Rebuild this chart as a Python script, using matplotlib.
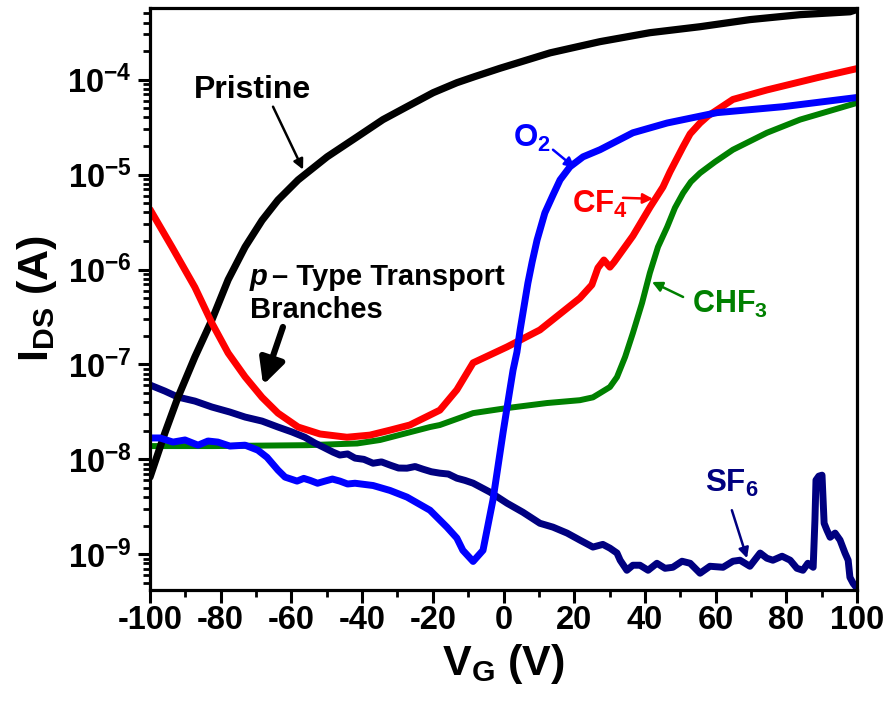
import matplotlib
matplotlib.use('Agg')
import matplotlib.pyplot as plt
from matplotlib.ticker import FixedLocator, FixedFormatter, LogLocator, NullFormatter, MultipleLocator

# ---------------- data ----------------
pristine_v = [-100, -95.8, -92.1, -87.3, -82.5, -77.9, -73.1, -68.3, -63.8, -58.1, -49.9, -41.4,
              -34.1, -27.3, -19.9, -13.2, -8.1, -1.0, 13.2, 27.3, 41.4, 55.6, 69.7, 83.9, 98.0, 100]
pristine_i = [6.5e-9, 1.89e-8, 4.5e-8, 1.2e-7, 2.94e-7, 7.8e-7, 1.73e-6, 3.3e-6, 5.4e-6, 8.8e-6,
              1.54e-5, 2.5e-5, 3.8e-5, 5.2e-5, 7.3e-5, 9.3e-5, 1.08e-4, 1.32e-4, 1.92e-4, 2.52e-4,
              3.13e-4, 3.62e-4, 4.3e-4, 4.85e-4, 5.2e-4, 5.5e-4]

cf4_v = [-100, -93.8, -87.3, -82.5, -77.9, -73.1, -68.3, -63.8, -58.1, -51.9, -44.3, -37.8, -32.1,
         -26.5, -18.0, -13.2, -8.6, 1.0, 10.3, 21.6, 25.0, 26.7, 28.4, 30.1, 31.3, 36.6, 41.5, 45.1,
         47.1, 50.8, 52.8, 55.6, 57.9, 60.4, 64.9, 74.5, 88.7, 100]
cf4_i = [4.3e-6, 1.73e-6, 6.5e-7, 2.73e-7, 1.32e-7, 7.4e-8, 4.5e-8, 3.07e-8, 2.19e-8, 1.85e-8,
         1.71e-8, 1.80e-8, 2.03e-8, 2.30e-8, 3.3e-8, 5.4e-8, 1.04e-7, 1.53e-7, 2.31e-7, 5.0e-7,
         6.9e-7, 1.04e-6, 1.26e-6, 1.06e-6, 1.20e-6, 2.26e-6, 4.57e-6, 7.4e-6, 1.07e-5, 1.97e-5,
         2.69e-5, 3.5e-5, 4.17e-5, 4.8e-5, 6.2e-5, 7.8e-5, 1.05e-4, 1.31e-4]

o2_v = [-100, -97.2, -93.5, -90.1, -86.4, -83.6, -80.8, -77.4, -73.1, -69.5, -66.9, -63.8, -61.8,
        -58.4, -56.5, -54.7, -52.6, -50.5, -48.4, -46.3, -44.1, -42.0, -36.9, -32.1, -27.3, -20.8,
        -16.0, -13.2, -11.5, -8.6, -5.8, -3.0, -0.1, 1.8, 2.7, 3.8, 4.7, 6.9, 8.1, 9.5, 11.7, 14.0,
        16.0, 18.8, 22.5, 27.3, 36.6, 46.3, 60.4, 79.1, 100]
o2_i = [1.68e-8, 1.68e-8, 1.52e-8, 1.60e-8, 1.41e-8, 1.56e-8, 1.52e-8, 1.38e-8, 1.41e-8, 1.25e-8,
        1.05e-8, 7.7e-9, 6.5e-9, 5.9e-9, 6.3e-9, 6.0e-9, 5.6e-9, 5.9e-9, 6.2e-9, 5.9e-9, 5.5e-9,
        5.6e-9, 5.3e-9, 4.7e-9, 4.0e-9, 2.91e-9, 1.93e-9, 1.48e-9, 1.10e-9, 8.4e-10, 1.10e-9,
        3.7e-9, 1.94e-8, 5.4e-8, 8.7e-8, 1.35e-7, 2.31e-7, 7.2e-7, 1.20e-6, 2.05e-6, 3.95e-6,
        6.1e-6, 8.8e-6, 1.21e-5, 1.54e-5, 1.83e-5, 2.76e-5, 3.5e-5, 4.5e-5, 5.2e-5, 6.5e-5]

chf3_v = [-100, -82.2, -55.6, -41.4, -34.9, -20.8, -18.0, -8.6, 1.0, 12.3, 21.6, 25.3, 27.3, 30.1,
          32.1, 34.4, 36.6, 39.2, 41.4, 43.7, 46.3, 48.5, 50.8, 53.0, 55.6, 59.8, 64.9, 74.5, 83.9,
          100]
chf3_i = [1.38e-8, 1.38e-8, 1.41e-8, 1.47e-8, 1.60e-8, 2.19e-8, 2.30e-8, 3.07e-8, 3.47e-8, 3.92e-8,
          4.2e-8, 4.5e-8, 4.99e-8, 5.78e-8, 7.36e-8, 1.20e-7, 2.14e-7, 4.45e-7, 9.2e-7, 1.73e-6,
          2.81e-6, 4.47e-6, 6.4e-6, 8.4e-6, 1.04e-5, 1.36e-5, 1.83e-5, 2.76e-5, 3.8e-5, 5.7e-5]

sf6_v = [-100, -95.8, -92.1, -87.3, -82.5, -77.4, -73.1, -68.3, -63.8, -59.8, -56.2, -53.3, -51.1,
         -48.2, -46.3, -44.1, -42.0, -39.5, -36.9, -34.5, -32.1, -29.7, -27.3, -25.0, -22.8, -20.4,
         -18.0, -15.6, -13.2, -10.9, -8.6, -3.8, 1.0, 5.5, 10.3, 14.0, 18.0, 21.6, 25.3, 28.1, 30.1,
         32.1, 33.0, 34.9, 36.6, 38.6, 40.9, 43.4, 45.7, 47.9, 50.5, 52.8, 55.6, 58.4, 62.1, 64.9,
         66.9, 69.7, 72.6, 74.5, 76.2, 78.8, 81.1, 83.0, 84.7, 86.1, 87.6, 88.1, 88.4, 89.2, 90.1,
         90.7, 91.5, 92.4, 93.8, 95.2, 96.6, 97.5, 98.0, 98.9, 100]
sf6_i = [6.07e-8, 5.24e-8, 4.53e-8, 4.11e-8, 3.56e-8, 3.15e-8, 2.79e-8, 2.53e-8, 2.19e-8, 1.94e-8,
         1.71e-8, 1.48e-8, 1.35e-8, 1.19e-8, 1.11e-8, 1.14e-8, 1.03e-8, 1.00e-8, 9.1e-9, 9.4e-9,
         8.7e-9, 8.1e-9, 8.07e-9, 8.4e-9, 7.88e-9, 7.4e-9, 7.15e-9, 7.0e-9, 6.33e-9, 6.0e-9,
         5.61e-9, 4.51e-9, 3.45e-9, 2.77e-9, 2.12e-9, 1.93e-9, 1.67e-9, 1.41e-9, 1.19e-9, 1.27e-9,
         1.16e-9, 1.03e-9, 8.65e-10, 6.78e-10, 7.66e-10, 7.66e-10, 6.78e-10, 8.03e-10, 7.11e-10,
         7.29e-10, 8.44e-10, 8.03e-10, 6.31e-10, 7.47e-10, 7.29e-10, 8.44e-10, 8.65e-10, 7.47e-10,
         1.03e-9, 9.08e-10, 8.65e-10, 9.53e-10, 8.65e-10, 7.11e-10, 6.78e-10, 8.03e-10, 7.29e-10,
         2.29e-9, 6.04e-9, 6.65e-9, 6.81e-9, 2.12e-9, 1.79e-9, 1.51e-9, 1.67e-9, 1.41e-9, 1.03e-9,
         8.65e-10, 5.71e-10, 4.94e-10, 4.38e-10]

x_ticks = [-100, -80, -60, -40, -20, 0, 20, 40, 60, 80, 100]
x_tick_labels = ['-100', '-80', '-60', '-40', '-20', '0', '20', '40', '60', '80', '100']
y_ticks = [1e-9, 1e-8, 1e-7, 1e-6, 1e-5, 1e-4]
y_tick_labels = [r'$10^{-9}$', r'$10^{-8}$', r'$10^{-7}$', r'$10^{-6}$', r'$10^{-5}$', r'$10^{-4}$']

# ---------------- style ----------------
plt.rcParams['font.family'] = ['Liberation Sans', 'DejaVu Sans']
plt.rcParams['font.weight'] = 'bold'
plt.rcParams['axes.unicode_minus'] = False
plt.rcParams['mathtext.fontset'] = 'custom'
plt.rcParams['mathtext.rm'] = 'Liberation Sans:bold'
plt.rcParams['mathtext.bf'] = 'Liberation Sans:bold'
plt.rcParams['mathtext.sf'] = 'Liberation Sans:bold'
plt.rcParams['mathtext.it'] = 'Liberation Sans:italic:bold'
plt.rcParams['mathtext.default'] = 'rm'

BLACK = '#000000'
RED = '#ff0000'
BLUE = '#0000ff'
GREEN = '#008000'
NAVY = '#000080'

fig = plt.figure(figsize=(8.89, 7.09), dpi=100)
ax = fig.add_axes([150 / 889, 1 - 590 / 709, 707 / 889, 582 / 709])

kw = dict(solid_joinstyle='round', solid_capstyle='round')
ax.plot(chf3_v, chf3_i, color=GREEN, lw=4.3, zorder=2, **kw)
ax.plot(sf6_v, sf6_i, color=NAVY, lw=5.0, zorder=3, **kw)
ax.plot(pristine_v, pristine_i, color=BLACK, lw=5.2, zorder=4, **kw)
ax.plot(cf4_v, cf4_i, color=RED, lw=5.0, zorder=5, **kw)
ax.plot(o2_v, o2_i, color=BLUE, lw=5.0, zorder=6, **kw)

ax.set_yscale('log')
ax.set_xlim(-100, 100)
ax.set_ylim(4.2e-10, 5.7e-4)

ax.xaxis.set_major_locator(FixedLocator(x_ticks))
ax.xaxis.set_major_formatter(FixedFormatter(x_tick_labels))
ax.xaxis.set_minor_locator(MultipleLocator(10))
ax.yaxis.set_major_locator(FixedLocator(y_ticks))
ax.yaxis.set_major_formatter(FixedFormatter(y_tick_labels))
ax.yaxis.set_minor_locator(LogLocator(base=10, subs=[2, 3, 4, 5, 6, 7, 8, 9], numticks=20))
ax.yaxis.set_minor_formatter(NullFormatter())

for s in ax.spines.values():
    s.set_linewidth(2.3)
    s.set_zorder(10)
ax.tick_params(which='major', direction='out', length=9, width=2.2, labelsize=23.5, pad=2)
ax.tick_params(which='minor', direction='out', length=5, width=2.0)
ax.tick_params(axis='y', which='major', pad=4)

ax.set_xlabel(r'$V_G$ (V)', fontsize=31, fontweight='bold', labelpad=4)
ax.set_ylabel(r'$I_{DS}$ (A)', fontsize=31, fontweight='bold', labelpad=6)

# ---------------- annotations ----------------
def arrow(tail, head, color, lw=1.8, ms=15):
    ax.annotate('', xy=head, xytext=tail,
                arrowprops=dict(arrowstyle='-|>', color=color, lw=lw, mutation_scale=ms,
                                shrinkA=0, shrinkB=0), zorder=8)

ax.text(-71.1, 7.85e-5, 'Pristine', fontsize=23, fontweight='bold', color=BLACK,
        ha='center', va='center', zorder=9)
arrow((-65.2, 5.2e-5), (-56.7, 1.13e-5), BLACK)

ax.text(-71.7, 6.9e-7, 'p', fontsize=21, fontweight='bold', style='italic', color=BLACK,
        ha='left', va='baseline', zorder=9)
ax.text(-65.5, 6.9e-7, '– Type Transport', fontsize=21, fontweight='bold', color=BLACK,
        ha='left', va='baseline', zorder=9)
ax.text(-71.7, 3.08e-7, 'Branches', fontsize=21, fontweight='bold', color=BLACK,
        ha='left', va='baseline', zorder=9)
ax.annotate('', xy=(-68.0, 6.07e-8), xytext=(-62.4, 2.48e-7),
            arrowprops=dict(arrowstyle='-|>', color=BLACK, lw=4.5, mutation_scale=38,
                            shrinkA=0, shrinkB=0), zorder=8)

ax.text(2.7, 1.96e-5, r'$O_2$', fontsize=22.5, color=BLUE, ha='left', va='baseline', zorder=9)
arrow((14.0, 1.83e-5), (20.2, 1.18e-5), BLUE)

ax.text(19.4, 3.95e-6, r'$CF_4$', fontsize=22.5, color=RED, ha='left', va='baseline', zorder=9)
arrow((33.8, 5.7e-6), (42.3, 5.56e-6), RED)

ax.text(53.3, 3.48e-7, r'$CHF_3$', fontsize=22, color=GREEN, ha='left', va='baseline', zorder=9)
arrow((50.8, 5.14e-7), (42.0, 7.4e-7), GREEN)

ax.text(57.0, 4.51e-9, r'$SF_6$', fontsize=22.5, color=NAVY, ha='left', va='baseline', zorder=9)
arrow((64.6, 2.91e-9), (68.9, 9.08e-10), NAVY)

fig.savefig('out.png', dpi=100)
